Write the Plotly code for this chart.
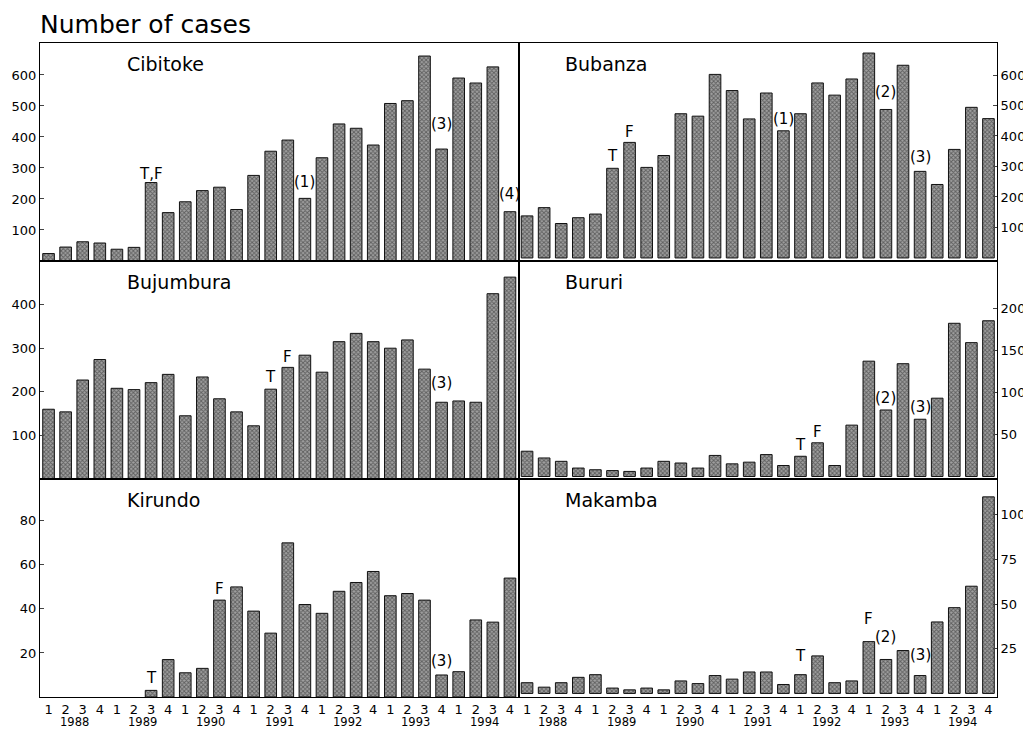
import plotly.graph_objects as go
from plotly.subplots import make_subplots

quarters = ["1", "2", "3", "4"] * 7
years = ["1988", "1989", "1990", "1991", "1992", "1993", "1994"]

cibitoke = [24, 45, 62, 58, 38, 44, 253, 156, 191, 227, 238, 166, 276, 354, 390, 202,
            333, 442, 428, 374, 508, 517, 661, 361, 590, 574, 626, 159]
bubanza = [138, 165, 113, 132, 144, 294, 379, 297, 336, 473, 465, 602, 549, 456, 541, 417,
           473, 574, 534, 587, 672, 487, 632, 284, 241, 356, 494, 457]
bujumbura = [160, 154, 227, 274, 208, 205, 221, 240, 145, 234, 184, 154, 122, 206, 256, 284,
             245, 315, 334, 315, 300, 319, 252, 176, 179, 176, 425, 463]
bururi = [30, 22, 18, 10, 8, 7, 6, 10, 18, 16, 10, 25, 15, 17, 26, 13,
          24, 40, 13, 61, 137, 79, 134, 68, 93, 182, 159, 185]
kirundo = [None, None, None, None, None, None, 3, 17, 11, 13, 44, 50, 39, 29, 70, 42,
           38, 48, 52, 57, 46, 47, 44, 10, 11.5, 35, 34, 54]
makamba = [6, 3.5, 6, 9, 10.5, 3, 2, 3, 2, 7, 5.5, 10, 8, 12, 12, 5,
           10.5, 21, 6, 7, 29, 19, 24, 10, 40, 48, 60, 110]

# (bar index, label, vertical offset of label centre above bar top in px)
panels = [
    ("Cibitoke", cibitoke, [100, 200, 300, 400, 500, 600], [0, 703],
     [(6, "T,F", 9), (15, "(1)", 16), (23, "(3)", 25), (27, "(4)", 18)]),
    ("Bubanza", bubanza, [100, 200, 300, 400, 500, 600], [-10, 705],
     [(5, "T", 12), (6, "F", 10), (15, "(1)", 12), (21, "(2)", 17), (23, "(3)", 14)]),
    ("Bujumbura", bujumbura, [100, 200, 300, 400], [0, 500],
     [(13, "T", 12), (14, "F", 10), (23, "(3)", 19)]),
    ("Bururi", bururi, [50, 100, 150, 200], [-3, 256],
     [(16, "T", 11), (17, "F", 11), (21, "(2)", 12), (23, "(3)", 12)]),
    ("Kirundo", kirundo, [20, 40, 60, 80], [0, 99],
     [(6, "T", 12), (10, "F", 11), (23, "(3)", 14)]),
    ("Makamba", makamba, [25, 50, 75, 100], [-2, 120],
     [(16, "T", 19), (20, "F", 23), (21, "(2)", 22), (23, "(3)", 21)]),
]

FONT = "DejaVu Sans"
fig = make_subplots(rows=3, cols=2, horizontal_spacing=0, vertical_spacing=0)

x = list(range(28))
for i, (name, vals, ticks, yr, notes) in enumerate(panels):
    r, c = i // 2 + 1, i % 2 + 1
    fig.add_trace(go.Bar(
        x=x, y=vals, width=0.68,
        marker=dict(color="#6e6e6e",
                    line=dict(color="#111111", width=1),
                    pattern=dict(shape="x", fgcolor="#1e1e1e", bgcolor="#a0a0a0",
                                 size=3, solidity=0.5)),
        showlegend=False, hoverinfo="x+y"), row=r, col=c)
    fig.update_yaxes(range=yr, tickvals=ticks, ticks="inside", ticklen=4,
                     side="left" if c == 1 else "right", automargin=False,
                     showline=True, linecolor="black", linewidth=1, mirror=True,
                     showgrid=False, zeroline=False,
                     tickfont=dict(family=FONT, size=13, color="black"),
                     row=r, col=c)
    fig.update_xaxes(range=[-0.5, 27.5], tickvals=x, ticktext=quarters if r == 3 else None,
                     showticklabels=(r == 3), ticks="", automargin=False,
                     showline=True, linecolor="black", linewidth=1, mirror=True,
                     showgrid=False, zeroline=False,
                     tickfont=dict(family=FONT, size=13, color="black"),
                     row=r, col=c)
    xa = "x" if i == 0 else f"x{i+1}"
    ya = "y" if i == 0 else f"y{i+1}"
    dom_x = fig.layout["xaxis" if i == 0 else f"xaxis{i+1}"].domain
    dom_y = fig.layout["yaxis" if i == 0 else f"yaxis{i+1}"].domain
    fig.add_annotation(text=name, xref="paper", yref="paper",
                       x=dom_x[0] + (0.089 if c == 1 else 0.047), y=dom_y[1] - 0.012,
                       xanchor="left", yanchor="top", showarrow=False,
                       font=dict(family=FONT, size=19, color="black"))
    for idx, lab, off in notes:
        fig.add_annotation(text=lab, x=idx, y=vals[idx], xref=xa, yref=ya,
                           xanchor="center", yanchor="middle", yshift=off, showarrow=False,
                           font=dict(family=FONT, size=15, color="black"))
    if r == 3:
        for k, yrname in enumerate(years):
            fig.add_annotation(text=yrname, x=4 * k + 1.5, y=0, xref=xa,
                               yref="paper", yshift=-16, yanchor="top", xanchor="center",
                               showarrow=False,
                               font=dict(family=FONT, size=11.5, color="black"))

fig.add_annotation(text="Number of cases", xref="paper", yref="paper", x=-0.002, y=1.0,
                   yshift=35, xanchor="left", yanchor="top", showarrow=False,
                   font=dict(family=FONT, size=25, color="black"))

# the page body adds an 8 px offset, so the figure is sized and margined to compensate
fig.update_layout(width=1023, height=722, bargap=0.32,
                  margin=dict(l=32, r=34, t=35, b=33),
                  plot_bgcolor="white", paper_bgcolor="white",
                  font=dict(family=FONT, color="black"))

fig.write_html("out.html")
